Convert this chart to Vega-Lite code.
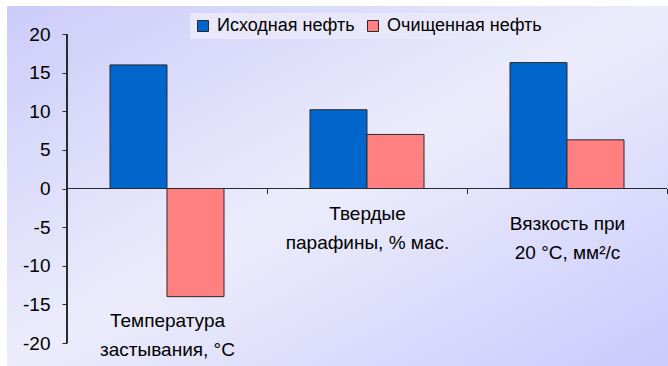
{
  "$schema": "https://vega.github.io/schema/vega-lite/v6.json",
  "width": 661,
  "height": 360,
  "autosize": {"type": "none"},
  "padding": {"left": 7, "top": 6, "right": 0, "bottom": 0},
  "background": "#ffffff",
  "view": {
    "stroke": null,
    "fill": {
      "gradient": "linear",
      "x1": 0, "y1": 0, "x2": 1, "y2": 1,
      "stops": [
        {"offset": 0, "color": "#ccccfa"},
        {"offset": 0.5, "color": "#ececfc"},
        {"offset": 1, "color": "#cacafd"}
      ]
    }
  },
  "config": {
    "font": "Liberation Sans",
    "axis": {"labelFont": "Liberation Sans", "labelColor": "#000000", "labelFontSize": 19, "domain": false, "tickColor": "#2a2a2a", "grid": false, "title": null},
    "legend": {"labelFont": "Liberation Sans", "labelFontSize": 18, "labelColor": "#000000"}
  },
  "data": {
    "values": [
      {"category": "Температура застывания, °C", "series": "Исходная нефть", "value": 16.0},
      {"category": "Температура застывания, °C", "series": "Очищенная нефть", "value": -14.0},
      {"category": "Твердые парафины, % мас.", "series": "Исходная нефть", "value": 10.2},
      {"category": "Твердые парафины, % мас.", "series": "Очищенная нефть", "value": 7.0},
      {"category": "Вязкость при 20 °C, мм²/с", "series": "Исходная нефть", "value": 16.3},
      {"category": "Вязкость при 20 °C, мм²/с", "series": "Очищенная нефть", "value": 6.3}
    ]
  },
  "layer": [
    {
      "mark": {"type": "bar", "stroke": "#2b2b2b", "strokeWidth": 1},
      "encoding": {
        "x": {
          "field": "category",
          "type": "nominal",
          "scale": {
            "domain": ["Температура застывания, °C", "Твердые парафины, % мас.", "Вязкость при 20 °C, мм²/с"],
            "paddingInner": 0,
            "paddingOuter": 0.1525,
            "align": 0.9836
          },
          "axis": {
            "orient": "bottom",
            "offset": -177.5,
            "tickOffset": 100,
            "tickSize": 5,
            "labelOffset": -100,
            "labelAngle": 0,
            "labelAlign": "center",
            "labelBaseline": "middle",
            "labelLineHeight": 29,
            "labelOverlap": false,
            "labelLimit": 300,
            "labelPadding": {
              "condition": [
                {"test": "datum.value == 'Температура застывания, °C'", "value": 127},
                {"test": "datum.value == 'Твердые парафины, % мас.'", "value": 20}
              ],
              "value": 30
            },
            "labelExpr": "datum.label == 'Температура застывания, °C' ? ['Температура', 'застывания, °C'] : datum.label == 'Твердые парафины, % мас.' ? ['Твердые', 'парафины, % мас.'] : ['Вязкость при', '20 °C, мм²/с']"
          }
        },
        "xOffset": {
          "field": "series",
          "type": "nominal",
          "scale": {"domain": ["Исходная нефть", "Очищенная нефть"], "paddingInner": 0, "paddingOuter": 0.754}
        },
        "y": {
          "field": "value",
          "type": "quantitative",
          "scale": {"domain": [-22.977, 23.625], "nice": false, "zero": false},
          "axis": {
            "orient": "left",
            "offset": -60,
            "values": [-20, -15, -10, -5, 0, 5, 10, 15, 20],
            "tickSize": 5,
            "labelPadding": 12,
            "labelExpr": "datum.value < 0 ? '-' + abs(datum.value) : '' + datum.value"
          }
        },
        "color": {
          "field": "series",
          "type": "nominal",
          "scale": {"domain": ["Исходная нефть", "Очищенная нефть"], "range": ["#0066cc", "#ff8080"]},
          "legend": {
            "orient": "none",
            "legendX": 183,
            "legendY": 7,
            "direction": "horizontal",
            "title": null,
            "fillColor": "#e8e8fa",
            "padding": 4,
            "symbolType": "square",
            "symbolSize": 121,
            "symbolStrokeColor": "#2b2b2b",
            "symbolStrokeWidth": 1,
            "symbolOpacity": 1,
            "labelOffset": 5,
            "columnPadding": 9
          }
        }
      }
    },
    {
      "mark": {"type": "rule", "color": "#2a2a2a", "strokeWidth": 1},
      "encoding": {
        "x": {"datum": "Температура застывания, °C", "type": "nominal", "bandPosition": 0},
        "y": {"datum": 20, "type": "quantitative"},
        "y2": {"datum": -20}
      }
    },
    {
      "mark": {"type": "rule", "color": "#2a2a2a", "strokeWidth": 1},
      "encoding": {
        "x": {"datum": "Температура застывания, °C", "type": "nominal", "bandPosition": 0},
        "x2": {"datum": "Вязкость при 20 °C, мм²/с", "bandPosition": 1},
        "y": {"datum": 0, "type": "quantitative"}
      }
    }
  ]
}
